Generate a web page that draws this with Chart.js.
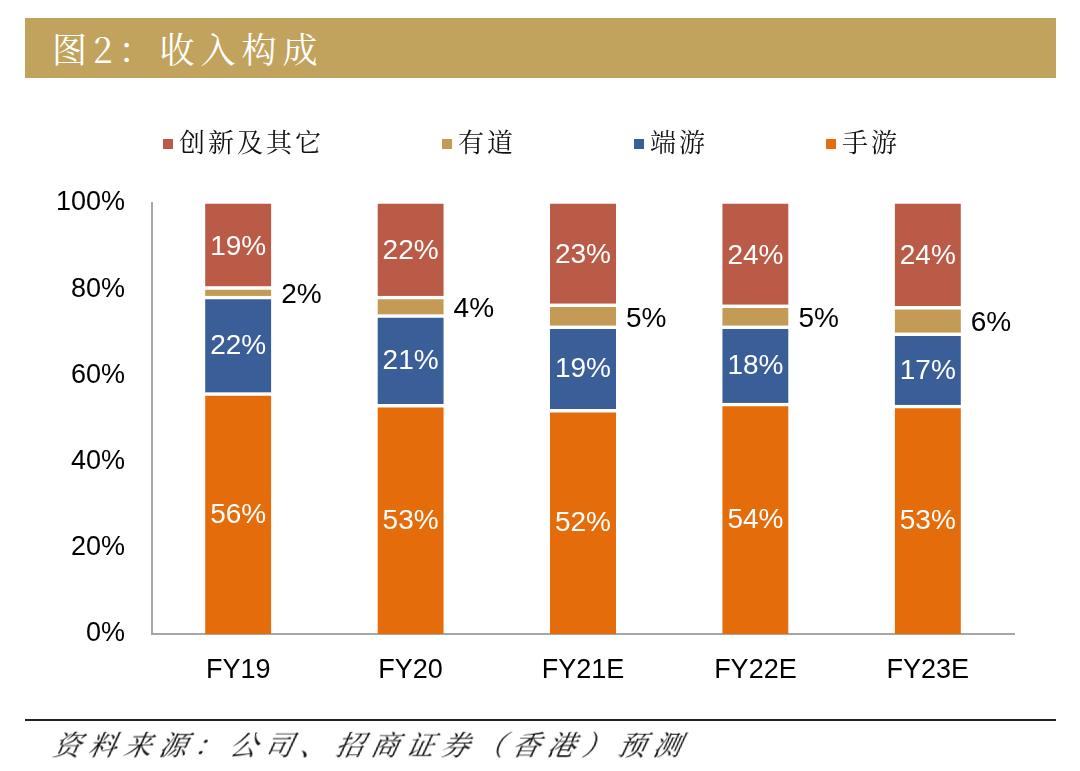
<!DOCTYPE html>
<html>
<head>
<meta charset="utf-8">
<script src="https://cdn.jsdelivr.net/npm/chart.js@4.4.0/dist/chart.umd.min.js"></script>
<style>
html,body{margin:0;padding:0;background:#fff;width:1080px;height:771px;overflow:hidden;}
#wrap{position:relative;width:1080px;height:771px;}
#c{position:absolute;left:0;top:0;}
#title{position:absolute;left:25px;top:18px;width:1031px;height:60px;background:#C2A35E;color:#fff;
  font-family:"Noto Serif CJK SC","Noto Sans CJK SC",sans-serif;font-size:35px;line-height:60px;
  padding-left:27px;box-sizing:border-box;letter-spacing:6px;}
#legend{position:absolute;top:122px;left:163px;display:flex;gap:118px;
  font-family:"Noto Serif CJK SC","Noto Sans CJK SC",sans-serif;font-size:26px;color:#111;letter-spacing:3px;}
.item{display:flex;align-items:center;white-space:nowrap;}
.sw{width:10px;height:10px;margin-right:6px;margin-top:6px;}
#fline{position:absolute;left:25px;top:719px;width:1031px;height:2px;background:#222;}
#foot{position:absolute;left:50px;top:723px;font-family:"Noto Serif CJK SC","Noto Sans CJK SC",sans-serif;
  font-size:28px;font-style:italic;letter-spacing:7.3px;color:#111;transform:skewX(-12deg);transform-origin:left bottom;}
</style>
</head>
<body>
<div id="wrap">
  <canvas id="c" width="1080" height="771"></canvas>
  <div id="title">图2：收入构成</div>
  <div id="legend"></div>
  <div id="fline"></div>
  <div id="foot">资料来源：公司、招商证券（香港）预测</div>
</div>
<script>
// ---- data ----
const categories = ['FY19', 'FY20', 'FY21E', 'FY22E', 'FY23E'];
const mobileGames = [56.0, 53.3, 52.1, 53.6, 53.1];   // 手游
const pcGames     = [22.4, 20.8, 19.4, 17.9, 16.8];   // 端游
const youdao      = [2.2, 4.3, 5.1, 4.9, 6.1];        // 有道
const innovation  = [19.4, 21.6, 23.4, 23.6, 24.0];   // 创新及其它
const yTicks = [0, 20, 40, 60, 80, 100];
const seriesNames = ['手游', '端游', '有道', '创新及其它'];
const seriesColors = ['#E46C0A', '#3A5F98', '#C39B57', '#B95B47'];

const seriesData = [mobileGames, pcGames, youdao, innovation];
const datasets = seriesData.map((d, i) => ({
  label: seriesNames[i],
  data: d,
  backgroundColor: seriesColors[i],
  borderColor: '#ffffff',
  borderWidth: {top: i === 3 ? 1 : 3.5, left: 0, right: 0, bottom: 0},
  borderSkipped: 'start',
  barThickness: 66,
  outside: i === 2
}));

// HTML legend (reverse order)
const legendEl = document.getElementById('legend');
for (let i = datasets.length - 1; i >= 0; i--) {
  const it = document.createElement('div');
  it.className = 'item';
  it.innerHTML = '<span class="sw" style="background:' + seriesColors[i] + '"></span>' + seriesNames[i];
  legendEl.appendChild(it);
}

const labelPlugin = {
  id: 'segLabels',
  afterDatasetsDraw(chart) {
    const ctx = chart.ctx;
    ctx.save();
    ctx.font = '28px "Liberation Sans", Arial, sans-serif';
    chart.data.datasets.forEach((ds, di) => {
      const meta = chart.getDatasetMeta(di);
      meta.data.forEach((bar, idx) => {
        const v = ds.data[idx];
        const txt = Math.round(v) + '%';
        const yc = (bar.y + bar.base) / 2;
        if (ds.outside) {
          ctx.fillStyle = '#000';
          ctx.textAlign = 'left';
          ctx.textBaseline = 'middle';
          ctx.fillText(txt, bar.x + bar.width / 2 + 10, yc + 4);
        } else {
          ctx.fillStyle = '#fff';
          ctx.textAlign = 'center';
          ctx.textBaseline = 'middle';
          ctx.fillText(txt, bar.x, yc + 2);
        }
      });
    });
    ctx.restore();
  }
};

new Chart(document.getElementById('c'), {
  type: 'bar',
  data: { labels: categories, datasets: datasets },
  options: {
    responsive: false,
    animation: false,
    devicePixelRatio: 1,
    layout: { padding: { top: 203, right: 66, left: 0, bottom: 0 } },
    plugins: { legend: { display: false }, tooltip: { enabled: false } },
    scales: {
      x: {
        stacked: true,
        grid: { display: false },
        border: { display: true, color: '#A6A6A6', width: 2 },
        ticks: { color: '#000', padding: 12, font: { family: '"Liberation Sans", Arial, sans-serif', size: 27 } },
        afterFit(s) { s.height = 137; }
      },
      y: {
        stacked: true,
        min: 0, max: 100,
        afterBuildTicks(s) { s.ticks = yTicks.map(v => ({ value: v })); },
        grid: { display: false, drawTicks: false },
        border: { display: true, color: '#A6A6A6', width: 2 },
        ticks: { color: '#000', padding: 27, font: { family: '"Liberation Sans", Arial, sans-serif', size: 27 },
                 callback: v => v + '%' },
        afterFit(s) { s.width = 152; }
      }
    }
  },
  plugins: [labelPlugin]
});
</script>
</body>
</html>
